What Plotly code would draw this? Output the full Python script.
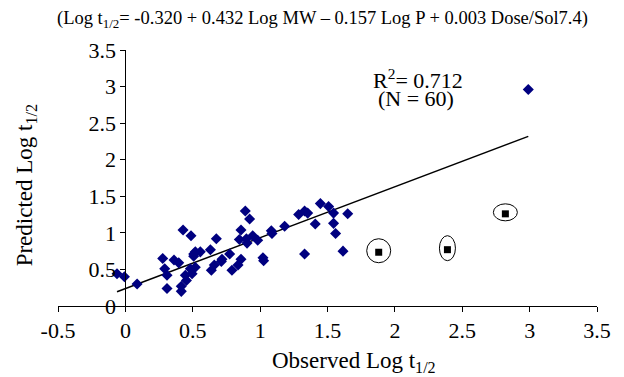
import plotly.graph_objects as go

# Observed vs predicted Log t1/2 (main set, blue diamonds)
observed = [-0.062, -0.007, 0.087, 0.277, 0.292, 0.309, 0.309, 0.361, 0.396, 0.428,
            0.415, 0.415, 0.445, 0.453, 0.482, 0.487, 0.495, 0.507, 0.507, 0.519,
            0.519, 0.556, 0.631, 0.638, 0.660, 0.675, 0.712, 0.717, 0.774, 0.791,
            0.836, 0.858, 0.858, 0.846, 0.890, 0.898, 0.903, 0.922, 0.945, 0.982,
            1.021, 1.026, 1.083, 1.088, 1.182, 1.286, 1.330, 1.353, 1.330, 1.409,
            1.447, 1.508, 1.545, 1.545, 1.560, 1.615, 1.650, 2.990]
predicted = [0.44, 0.40, 0.30, 0.65, 0.51, 0.42, 0.24, 0.63, 0.59, 1.04,
             0.27, 0.20, 0.42, 0.35, 0.51, 0.96, 0.44, 0.71, 0.68, 0.53,
             0.74, 0.74, 0.77, 0.49, 0.56, 0.92, 0.61, 0.64, 0.71, 0.49,
             0.56, 1.04, 0.64, 0.91, 1.30, 0.92, 0.86, 1.19, 0.96, 0.90,
             0.66, 0.62, 1.03, 0.99, 1.09, 1.25, 1.30, 1.27, 0.71, 1.12,
             1.40, 1.36, 1.27, 1.13, 0.99, 0.75, 1.26, 2.96]

# Outliers (black squares, circled)
out_observed = [1.88, 2.39, 2.82]
out_predicted = [0.735, 0.77, 1.26]
# ellipse half-sizes in pixels around each outlier (x, y)
ell_w = [12, 8, 12]
ell_h = [12, 12.5, 8.5]

# Regression line
intercept = 0.238
slope = 0.696

x_ticks = [-0.5, 0, 0.5, 1, 1.5, 2, 2.5, 3, 3.5]
y_ticks = [0, 0.5, 1, 1.5, 2, 2.5, 3, 3.5]

FONT = "Liberation Serif"

fig = go.Figure()

lx = [min(observed), max(observed)]
ly = [intercept + slope * v for v in lx]
fig.add_trace(go.Scatter(x=lx, y=ly, mode="lines",
                         line=dict(color="black", width=1.5), showlegend=False,
                         hoverinfo="skip"))

fig.add_trace(go.Scatter(x=observed, y=predicted, mode="markers",
                         marker=dict(symbol="diamond", size=8.5, color="#000080"),
                         showlegend=False))

fig.add_trace(go.Scatter(x=out_observed, y=out_predicted, mode="markers",
                         marker=dict(symbol="square", size=7, color="black"),
                         showlegend=False))

for xo, yo, w, h in zip(out_observed, out_predicted, ell_w, ell_h):
    fig.add_shape(type="circle", xref="x", yref="y",
                  xsizemode="pixel", ysizemode="pixel",
                  xanchor=xo, yanchor=yo,
                  x0=-w, x1=w, y0=-h + 1.5, y1=h + 1.5,
                  line=dict(color="black", width=1), fillcolor="rgba(0,0,0,0)")

fig.update_layout(
    width=624, height=377,
    margin=dict(l=58, r=27, t=50, b=71),
    paper_bgcolor="white", plot_bgcolor="white",
    font=dict(family=FONT, color="black", size=22),
    xaxis=dict(range=[-0.5, 3.5], tickvals=x_ticks,
               ticktext=[f"{v:g}" for v in x_ticks],
               showgrid=False, zeroline=False, showline=True,
               linecolor="black", linewidth=1, ticks="outside",
               ticklen=5, tickcolor="black", anchor="y",
               tickfont=dict(family=FONT, size=22)),
    yaxis=dict(range=[0, 3.5], tickvals=y_ticks,
               ticktext=[f"{v:g}" for v in y_ticks],
               showgrid=False, zeroline=False, showline=True,
               linecolor="black", linewidth=1, ticks="outside",
               ticklen=5, tickcolor="black", anchor="free", position=0.125,
               tickfont=dict(family=FONT, size=22)),
)

def note(text, x, y, size, angle=0):
    fig.add_annotation(text=text, xref="paper", yref="paper", x=x, y=y,
                       xanchor="center", yanchor="middle", textangle=angle,
                       showarrow=False, font=dict(family=FONT, size=size))

note("(Log t<sub>1/2</sub>= -0.320 + 0.432 Log MW \u2013 0.157 Log P + 0.003 Dose/Sol7.4)",
     0.49, 1.12, 18.5)
note("Observed Log t<sub>1/2</sub>", 0.55, -0.218, 23)
note("Predicted Log t<sub>1/2</sub>", -0.06, 0.47, 23, angle=-90)
note("R<sup>2</sup>= 0.712", 0.667, 0.885, 22)
note("(N = 60)", 0.665, 0.812, 22)

fig.write_html("out.html")
